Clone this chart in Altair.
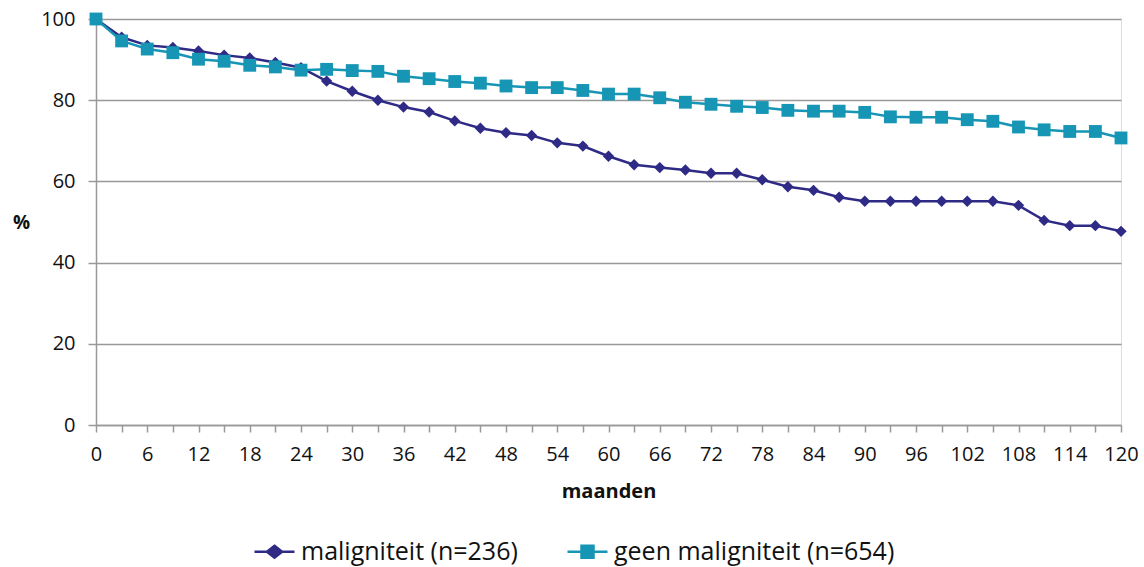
import altair as alt
import pandas as pd

months = list(range(0, 121, 3))
maligniteit = [100, 95.5, 93.5, 93.0, 92.1, 91.1, 90.4, 89.3, 88.0, 84.7, 82.2, 80.0, 78.3,
               77.1, 74.9, 73.1, 72.0, 71.3, 69.5, 68.7, 66.2, 64.1, 63.4, 62.8, 62.0, 62.0,
               60.4, 58.7, 57.8, 56.1, 55.1, 55.1, 55.1, 55.1, 55.1, 55.1, 54.1, 50.4, 49.1,
               49.1, 47.7]
geen = [100, 94.6, 92.6, 91.7, 90.1, 89.6, 88.6, 88.2, 87.4, 87.6, 87.3, 87.1, 85.9,
        85.3, 84.6, 84.2, 83.5, 83.1, 83.1, 82.4, 81.5, 81.5, 80.6, 79.5, 79.0, 78.5,
        78.2, 77.5, 77.3, 77.3, 77.0, 75.9, 75.8, 75.8, 75.2, 74.8, 73.4, 72.7, 72.3,
        72.3, 70.7]
names = ["maligniteit (n=236)", "geen maligniteit (n=654)"]
colors = ["#2E2A86", "#1695B5"]
shapes = ["diamond", "square"]
sizes = [130, 165]
legend_paths = [
    "M-1,0H1M0,-0.3L0.38,0L0,0.3L-0.38,0ZM0,-0.17L0.22,0L0,0.17L-0.22,0ZM0,-0.06L0.08,0L0,0.06L-0.08,0Z",
    "M-1,0H1M-0.3,-0.3H0.3V0.3H-0.3ZM-0.18,-0.18H0.18V0.18H-0.18ZM-0.06,-0.06H0.06V0.06H-0.06Z",
]

rows = []
for name, vals in zip(names, [maligniteit, geen]):
    for m, v in zip(months, vals):
        rows.append({"maanden": m, "pct": v, "reeks": name})
df = pd.DataFrame(rows)

FONT = "Open Sans"

x = alt.X("maanden:Q",
          scale=alt.Scale(domain=[0, 120], nice=False),
          axis=alt.Axis(values=months, title="maanden",
                        labelExpr="datum.value % 6 === 0 ? datum.label : ''",
                        grid=False, tickSize=7, tickColor="#999999", domainColor="#999999",
                        domainWidth=1.5, tickWidth=1.5,
                        labelFont=FONT, labelFontSize=20, labelColor="#111111",
                        labelPadding=12, labelFlush=False,
                        titleFont=FONT, titleFontSize=20, titleFontWeight="bold",
                        titleColor="#111111", titlePadding=17))
y = alt.Y("pct:Q",
          scale=alt.Scale(domain=[0, 100], nice=False),
          axis=alt.Axis(values=[0, 20, 40, 60, 80, 100], title="%",
                        grid=True, gridColor="#999999", gridWidth=1.5,
                        tickSize=8, tickColor="#999999", domainColor="#999999",
                        domainWidth=1.5, tickWidth=1.5,
                        labelFont=FONT, labelFontSize=20, labelColor="#111111",
                        labelPadding=13,
                        titleFont=FONT, titleFontSize=19, titleFontWeight="bold",
                        titleColor="#111111", titleAngle=0, titleX=-75, titleY=203,
                        titleAlign="center", titleBaseline="middle"))

layers = []
for name, col in zip(names, colors):
    layers.append(alt.Chart(df).transform_filter(alt.datum.reeks == name)
                  .mark_line(strokeWidth=2.5, color=col).encode(x=x, y=y))
for name, col, shp, sz in zip(names, colors, shapes, sizes):
    layers.append(alt.Chart(df).transform_filter(alt.datum.reeks == name)
                  .mark_point(filled=True, opacity=1, color=col, shape=shp, size=sz)
                  .encode(x=x, y=y))

leg = alt.Legend(orient="none", legendX=157, legendY=511,
                 direction="horizontal", title=None, padding=0,
                 symbolSize=1600, symbolStrokeWidth=2.5, symbolOpacity=1,
                 labelFont=FONT, labelFontSize=25, labelColor="#111111",
                 labelOffset=5, columnPadding=44, labelLimit=0)
legend_layer = alt.Chart(df).mark_point(filled=False, opacity=0, strokeWidth=2.5).encode(
    x=x, y=y,
    color=alt.Color("reeks:N", scale=alt.Scale(domain=names, range=colors), legend=leg),
    shape=alt.Shape("reeks:N", scale=alt.Scale(domain=names, range=legend_paths), legend=leg),
)
layers.append(legend_layer)

chart = alt.layer(*layers).properties(
    width=1025, height=406,
    autosize=alt.AutoSizeParams(type="none"),
    padding={"left": 96, "top": 19, "right": 23, "bottom": 142},
).configure_view(stroke=None).configure(background="white")

chart.save("out.html", embed_options={"renderer": "svg", "actions": False})
